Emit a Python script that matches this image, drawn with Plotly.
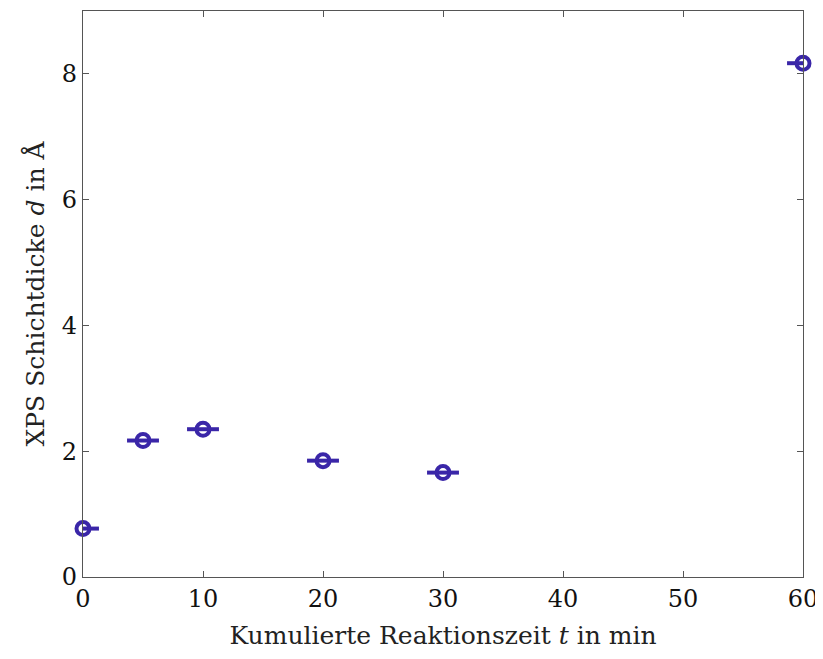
import plotly.graph_objects as go

zeit = [0, 5, 10, 20, 30, 60]
dicke = [0.77, 2.17, 2.35, 1.85, 1.66, 8.17]
zeit_fehler = [1.33, 1.33, 1.33, 1.33, 1.33, 1.33]
x_ticks = [0, 10, 20, 30, 40, 50, 60]
y_ticks = [0, 2, 4, 6, 8]

farbe = "rgb(58,38,168)"
font_family = "DejaVu Serif"

fig = go.Figure()
# error bars (clipped to the plot area)
fig.add_trace(go.Scatter(
    x=zeit, y=dicke, mode="markers",
    marker=dict(size=1, color="rgba(0,0,0,0)"),
    error_x=dict(type="data", array=zeit_fehler, color=farbe, thickness=4, width=0),
    cliponaxis=True, hoverinfo="skip",
))
# markers (not clipped)
fig.add_trace(go.Scatter(
    x=zeit, y=dicke, mode="markers",
    marker=dict(symbol="circle-open", size=13, color=farbe, line=dict(width=4, color=farbe)),
    cliponaxis=False,
))

axis_common = dict(
    showgrid=False, zeroline=False, showline=True, linecolor="#555", linewidth=1.2,
    mirror="ticks", ticks="inside", ticklen=6, tickcolor="#555",
    tickfont=dict(family=font_family, size=24, color="#111"),
)
fig.update_xaxes(range=[0, 60], tickvals=x_ticks,
                 title=dict(text="Kumulierte Reaktionszeit <i>t</i> in min",
                            font=dict(family=font_family, size=25, color="#222"), standoff=14),
                 **axis_common)
fig.update_yaxes(range=[0, 9], tickvals=y_ticks,
                 title=dict(text="XPS Schichtdicke <i>d</i> in Å",
                            font=dict(family=font_family, size=25, color="#222"), standoff=10),
                 **axis_common)
fig.update_layout(
    width=815, height=651,
    margin=dict(l=75, r=20, t=3, b=82),
    plot_bgcolor="white", paper_bgcolor="white",
    showlegend=False,
)
fig.write_html("out.html")
